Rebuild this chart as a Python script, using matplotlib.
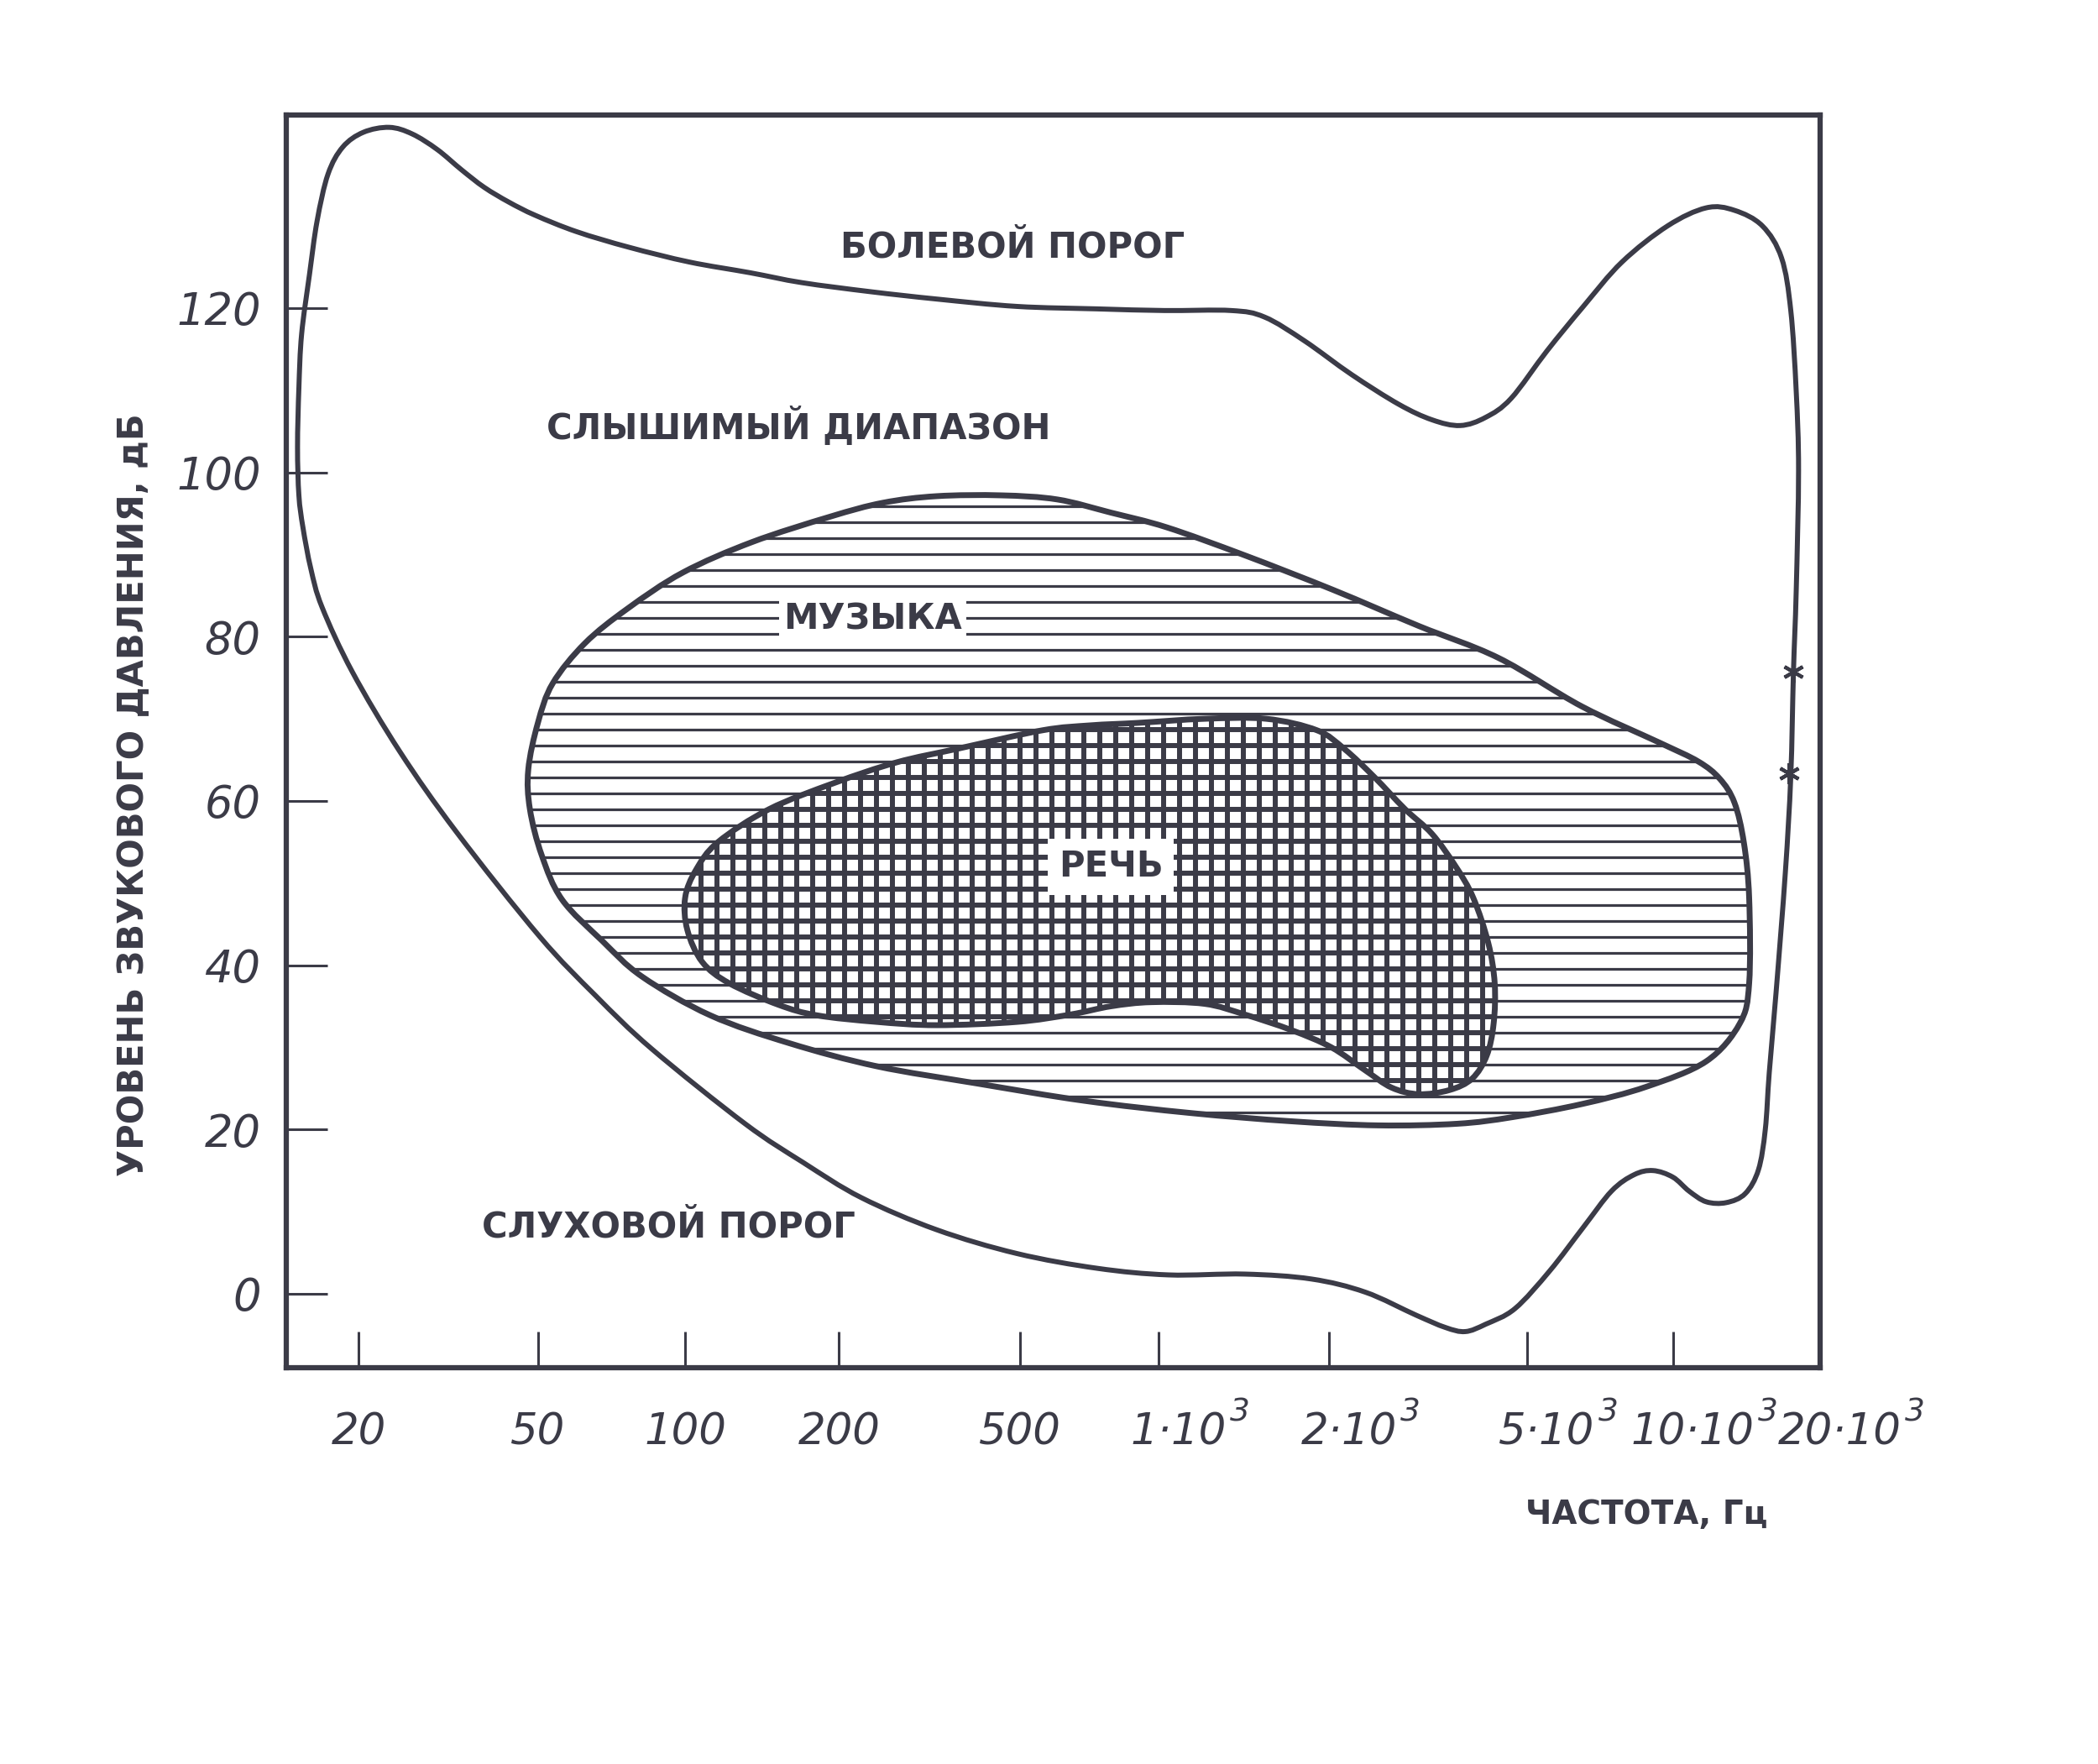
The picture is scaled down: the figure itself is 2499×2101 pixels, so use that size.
import numpy as np
import matplotlib
matplotlib.use("Agg")
import matplotlib.pyplot as plt
from matplotlib.patches import PathPatch
from matplotlib.path import Path
from matplotlib.collections import LineCollection
from matplotlib.transforms import blended_transform_factory, offset_copy
from matplotlib.ticker import NullLocator

plt.rcParams['font.family'] = ['DejaVu Sans']

INK = '#3b3b47'

# ---------------- data (frequency in Hz, level in dB) ----------------
pain_hz = [14.8, 14.9, 15.1, 15.7, 16.3, 17.2, 18.5, 20.5, 23.4, 26.3, 29.9, 33.9,
           38.0, 43.1, 49.3, 60.0, 76.8, 102, 134, 169, 234, 328, 493, 736, 1022, 1343,
           1539, 1811, 2222, 2760, 3221, 3671, 4131, 4645, 5500, 6535, 7850, 9750,
           11700, 13360, 15240, 16680, 17420, 17870, 18070, 17870, 17640, 17420]
pain_db = [103.1, 110.3, 116.8, 124.1, 130.6, 136.3, 139.6, 141.4, 142.0, 141.2, 139.3,
           136.8, 134.7, 132.9, 131.3, 129.3, 127.4, 125.6, 124.3, 123.1, 122.0, 121.1,
           120.2, 119.9, 119.7, 119.7, 118.9, 116.0, 111.9, 108.3, 106.4, 105.7, 106.7,
           109.0, 114.8, 120.2, 125.6, 130.0, 132.2, 131.9, 130.0, 126.1, 119.7, 109.9,
           100.2, 85.5, 75.7, 63.0]

hearing_hz = [14.8, 14.9, 15.2, 15.8, 16.7, 19.4, 24.7, 33.0, 50.4, 65.6, 85.5, 131,
              170, 224, 328, 493, 736, 1039, 1419, 1862, 2366, 2993, 3428, 3759, 4131,
              4730, 5572, 6535, 7470, 8320, 9100, 10000, 10790, 11700, 12860, 14060,
              14960, 15450, 15740, 16250, 16980, 17420]
hearing_db = [103.1, 97.2, 93.3, 88.3, 83.6, 75.7, 66.0, 56.2, 43.5, 36.3, 29.8, 20.7,
              16.0, 11.7, 7.8, 4.9, 3.1, 2.3, 2.4, 1.8, 0.2, -2.6, -4.1, -4.6, -3.7,
              -1.8, 2.8, 8.1, 12.5, 14.5, 15.0, 14.2, 12.5, 11.2, 11.1, 12.2, 15.1,
              20.0, 26.9, 36.6, 51.3, 63.0]

music_hz = [328, 455, 603, 787, 1033, 1419, 2038, 3030, 4385, 6490, 9380, 11270, 12470,
            13360, 13970, 14320, 14320, 13700, 11700, 8810, 6490, 4670, 3622, 2513,
            1717, 1140, 689, 403, 242, 160, 112, 81.7, 67.6, 56.0, 50.9, 48.0, 47.6,
            50.0, 53.6, 62.4, 76.2, 98.9, 135, 192, 250]
music_db = [97.1, 97.2, 96.7, 95.1, 93.3, 89.9, 85.7, 81.3, 77.4, 71.5, 67.1, 64.8, 62.7,
            59.8, 54.9, 48.2, 37.8, 32.9, 28.3, 25.2, 23.1, 21.5, 20.7, 20.5, 21.0,
            22.0, 23.5, 25.6, 27.7, 30.5, 33.9, 38.6, 43.0, 48.0, 53.4, 59.0, 63.8,
            69.5, 74.3, 79.2, 83.4, 87.8, 91.5, 94.6, 96.3]

speech_hz = [900, 1205, 1549, 1905, 2151, 2468, 2844, 3221, 3597, 3900, 4180, 4306, 4285,
             4150, 3880, 3491, 3030, 2673, 2366, 2023, 1717, 1419, 1205, 962, 787, 644,
             493, 328, 242, 181, 152, 122, 108, 101, 100, 105, 116, 146, 196, 268, 368,
             560, 711]
speech_db = [69.5, 70.0, 70.0, 68.6, 66.3, 62.9, 59.0, 56.0, 52.0, 48.2, 42.7, 37.8, 32.9,
             29.0, 26.2, 24.8, 24.3, 25.1, 27.2, 30.0, 32.1, 34.0, 35.3, 35.5, 35.0, 34.0,
             33.1, 32.7, 33.1, 33.9, 35.2, 37.8, 40.4, 44.3, 48.2, 51.6, 55.0, 59.0,
             62.2, 64.7, 66.4, 68.6, 69.2]

marker_hz = [17640, 17300]
marker_db = [75.7, 63.4]

xtick_hz = [20, 50, 100, 200, 500, 1000, 2000, 5000, 10000, 20000]
xtick_base = ["20", "50", "100", "200", "500", "1·10", "2·10", "5·10", "10·10", "20·10"]
xtick_power = ["", "", "", "", "", "3", "3", "3", "3", "3"]
ytick_db = [0, 20, 40, 60, 80, 100, 120]

# ---------------- hand-drawn frequency axis (log-like, piecewise) ----------------
_axis_hz = np.array([14, 20, 50, 100, 200, 500, 1000, 2000, 5000, 10000, 20000], float)
_axis_pos = np.array([214, 268, 402, 512, 627, 762, 866, 993, 1141, 1250, 1360], float)
_LA = np.log10(_axis_hz)


def _fwd(x):
    x = np.asarray(x, float)
    lx = np.log10(np.clip(x, 1e-6, None))
    y = np.interp(lx, _LA, _axis_pos)
    s0 = (_axis_pos[1] - _axis_pos[0]) / (_LA[1] - _LA[0])
    s1 = (_axis_pos[-1] - _axis_pos[-2]) / (_LA[-1] - _LA[-2])
    y = np.where(lx < _LA[0], _axis_pos[0] + (lx - _LA[0]) * s0, y)
    y = np.where(lx > _LA[-1], _axis_pos[-1] + (lx - _LA[-1]) * s1, y)
    return y


def _inv(p):
    p = np.asarray(p, float)
    l = np.interp(p, _axis_pos, _LA)
    s0 = (_LA[1] - _LA[0]) / (_axis_pos[1] - _axis_pos[0])
    s1 = (_LA[-1] - _LA[-2]) / (_axis_pos[-1] - _axis_pos[-2])
    l = np.where(p < _axis_pos[0], _LA[0] + (p - _axis_pos[0]) * s0, l)
    l = np.where(p > _axis_pos[-1], _LA[-1] + (p - _axis_pos[-1]) * s1, l)
    return 10 ** l


def smooth_path(hz, db, closed=True):
    """Smooth outline through the read points (Catmull-Rom as cubic Bezier)."""
    P = np.column_stack([_fwd(hz), np.asarray(db, float)])
    n = len(P)
    if closed:
        get = lambda i: P[i % n]
        segs = range(n)
    else:
        get = lambda i: P[min(max(i, 0), n - 1)]
        segs = range(n - 1)
    verts = [P[0]]
    codes = [Path.MOVETO]
    for i in segs:
        p0, p1, p2, p3 = get(i - 1), get(i), get(i + 1), get(i + 2)
        verts += [p1 + (p2 - p0) / 6.0, p2 - (p3 - p1) / 6.0, p2]
        codes += [Path.CURVE4] * 3
    if closed:
        verts.append(P[0])
        codes.append(Path.CLOSEPOLY)
    verts = np.array(verts)
    verts[:, 0] = _inv(verts[:, 0])
    return Path(verts, codes)


# ---------------- figure ----------------
fig = plt.figure(figsize=(24.99, 21.01), dpi=100)
fig.patch.set_facecolor('white')
ax = fig.add_axes([0.13645, 0.22465, 0.7311, 0.71014])
ax.set_xscale('function', functions=(_fwd, _inv))
ax.set_xlim(14, 20000)
ax.set_ylim(-9, 143.5)

for sp in ax.spines.values():
    sp.set_linewidth(4.5)
    sp.set_color(INK)

ax_w_px = 0.7311 * fig.get_figwidth() * fig.dpi
ax_h_px = 0.71014 * fig.get_figheight() * fig.dpi
step = 19.0
dy = step / ax_h_px
dx = step / ax_w_px
hsegs = [[(0, k * dy), (1, k * dy)] for k in range(int(1 / dy) + 2)]
vsegs = [[(k * dx, 0), (k * dx, 1)] for k in range(int(1 / dx) + 2)]

# music region (horizontal hatching)
music_path = smooth_path(music_hz, music_db)
music_fill = PathPatch(music_path, facecolor='white', edgecolor='none', zorder=1)
ax.add_patch(music_fill)
music_lines = LineCollection(hsegs, transform=ax.transAxes, colors=INK,
                             linewidths=2.3, zorder=2)
ax.add_collection(music_lines)
music_lines.set_clip_path(music_fill)

# speech region (cross hatching)
speech_path = smooth_path(speech_hz, speech_db)
speech_fill = PathPatch(speech_path, facecolor='white', edgecolor='none', zorder=3)
ax.add_patch(speech_fill)
speech_lines = LineCollection(hsegs + vsegs, transform=ax.transAxes, colors=INK,
                              linewidths=4.3, zorder=4)
ax.add_collection(speech_lines)
speech_lines.set_clip_path(speech_fill)

ax.add_patch(PathPatch(music_path, facecolor='none', edgecolor=INK, linewidth=5.0,
                       joinstyle='round', zorder=6))
ax.add_patch(PathPatch(speech_path, facecolor='none', edgecolor=INK, linewidth=5.0,
                       joinstyle='round', zorder=7))

# audible area outline (pain threshold + hearing threshold)
outer_hz = list(pain_hz) + list(hearing_hz[::-1][1:-1])
outer_db = list(pain_db) + list(hearing_db[::-1][1:-1])
ax.add_patch(PathPatch(smooth_path(outer_hz, outer_db), facecolor='none', edgecolor=INK,
                       linewidth=4.3, joinstyle='round', zorder=5))
ax.plot(marker_hz, marker_db, ls='none', marker=(6, 2, 0), ms=18, mew=3,
        color=INK, zorder=8)

# labels inside
lab_kw = dict(ha='center', va='center', color=INK, fontweight='bold', fontsize=30, zorder=9)
ax.text(483, 127.4, "БОЛЕВОЙ ПОРОГ", **lab_kw)
ax.text(167, 105.5, "СЛЫШИМЫЙ ДИАПАЗОН", **lab_kw)
ax.text(237, 82.1, "МУЗЫКА",
        bbox=dict(facecolor='white', edgecolor='none', boxstyle='square,pad=0.12'), **lab_kw)
ax.text(787, 52.0, "РЕЧЬ",
        bbox=dict(facecolor='white', edgecolor='none', boxstyle='square,pad=0.3'), **lab_kw)
ax.text(92.7, 8.1, "СЛУХОВОЙ ПОРОГ", **lab_kw)

# y axis
ax.set_yticks(ytick_db)
ax.set_yticklabels([str(v) for v in ytick_db])
ax.tick_params(axis='y', direction='in', length=35, width=2.2, pad=22,
               labelsize=38, color=INK, labelcolor=INK)
for t in ax.get_yticklabels():
    t.set_fontstyle('italic')

# x axis
ax.set_xticks(xtick_hz[:-1])
ax.set_xticklabels([])
ax.xaxis.set_minor_locator(NullLocator())
ax.tick_params(axis='x', direction='in', length=31, width=2.2, color=INK)
trans = blended_transform_factory(ax.transData, ax.transAxes)
for f, base, pw in zip(xtick_hz, xtick_base, xtick_power):
    off = 17 if pw else 0
    t = ax.text(f, -0.061, base, transform=offset_copy(trans, fig=fig, x=off, units='points'),
                ha='center', va='baseline', fontsize=37, fontstyle='italic', color=INK)
    if pw:
        ax.annotate(pw, xy=(1.0, 0.62), xycoords=t, xytext=(3, 0),
                    textcoords='offset points', ha='left', va='bottom',
                    fontsize=27, fontstyle='italic', color=INK)

ax.set_ylabel("УРОВЕНЬ ЗВУКОВОГО ДАВЛЕНИЯ, дБ", fontsize=30, fontweight='bold', color=INK)
ax.yaxis.set_label_coords(-0.0996, 0.457)
ax.yaxis.label.set_va('center')
ax.set_xlabel("ЧАСТОТА, Гц", fontsize=28, fontweight='bold', color=INK)
ax.xaxis.set_label_coords(0.887, -0.117)
ax.xaxis.label.set_va('center')

fig.savefig("out.png", dpi=100, facecolor='white')
